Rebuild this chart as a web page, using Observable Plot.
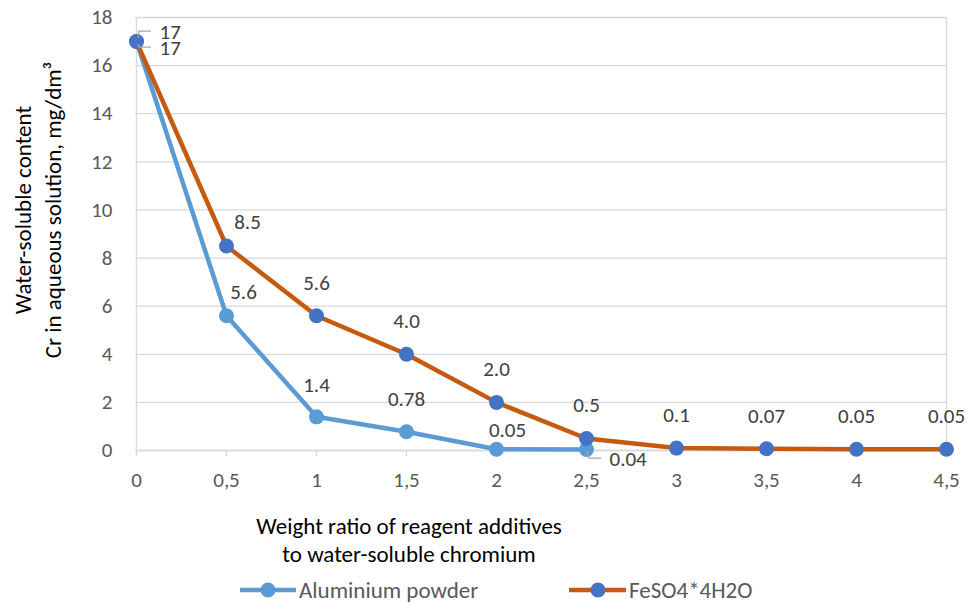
<!DOCTYPE html>
<html>
<head>
<meta charset="utf-8">
<script src="https://cdn.jsdelivr.net/npm/d3@7"></script>
<script src="https://cdn.jsdelivr.net/npm/@observablehq/plot@0.6"></script>
<style>
  html, body { margin: 0; padding: 0; background: #fff; }
  body { width: 969px; height: 603px; position: relative; overflow: hidden;
         font-family: Carlito, Calibri, Lato, "Noto Sans", sans-serif; }
  #chart { position: absolute; left: 0; top: 0; }
  .ytitle { position: absolute; left: 38px; top: 210px; transform: translate(-50%, -50%) rotate(-90deg);
            white-space: nowrap; text-align: center; font-size: 23px; line-height: 30px; color: #000; }
  .xtitle { position: absolute; left: 409px; top: 512px; transform: translateX(-50%);
            white-space: nowrap; text-align: center; font-size: 23px; line-height: 28px; color: #000; }
  .legend { position: absolute; top: 576px; left: 0; width: 969px; height: 28px; font-size: 23px; color: #595959; }
  .item { position: absolute; top: 0; display: flex; align-items: center; height: 28px; }
  .item svg { margin-right: 3px; }
</style>
</head>
<body>
<div id="chart"></div>
<div class="ytitle">Water-soluble content<br>Cr in aqueous solution, mg/dm³</div>
<div class="xtitle">Weight ratio of reagent additives<br>to water-soluble chromium</div>
<div class="legend">
  <div class="item" style="left:240px"><svg width="56" height="20"><line x1="0" y1="10" x2="56" y2="10" stroke="#5B9BD5" stroke-width="4.5"/><circle cx="28" cy="10" r="7.5" fill="#5B9BD5"/></svg><span id="lg1"></span></div>
  <div class="item" style="left:569px"><svg width="57" height="20"><line x1="0" y1="10" x2="57" y2="10" stroke="#C55A11" stroke-width="4.5"/><circle cx="29" cy="10" r="7.5" fill="#4472C4"/></svg><span id="lg2"></span></div>
</div>
<script>
const categories = ["0", "0,5", "1", "1,5", "2", "2,5", "3", "3,5", "4", "4,5"];
const seriesNames = ["Aluminium powder", "FeSO4*4H2O"];
const aluminium = [17, 5.6, 1.4, 0.78, 0.05, 0.04];
const aluminiumLabels = ["17", "5.6", "1.4", "0.78", "0.05", "0.04"];
const feso4 = [17, 8.5, 5.6, 4.0, 2.0, 0.5, 0.1, 0.07, 0.05, 0.05];
const feso4Labels = ["17", "8.5", "5.6", "4.0", "2.0", "0.5", "0.1", "0.07", "0.05", "0.05"];
const yTicks = [0, 2, 4, 6, 8, 10, 12, 14, 16, 18];

document.getElementById("lg1").textContent = seriesNames[0];
document.getElementById("lg2").textContent = seriesNames[1];

const alRows = aluminium.map((v, i) => ({x: categories[i], y: v, label: aluminiumLabels[i], i}));
const feRows = feso4.map((v, i) => ({x: categories[i], y: v, label: feso4Labels[i], i}));

const BLUE = "#5B9BD5", ORANGE = "#C55A11", MARK = "#4472C4", GRID = "#D9D9D9", TXT = "#404040";
const font = "Carlito, Calibri, Lato, 'Noto Sans', sans-serif";

// leader lines drawn through the library's scales
function leaders(index, scales) {
  const g = d3.create("svg:g").attr("fill", "none").attr("stroke", "#A6A6A6").attr("stroke-width", 1.3);
  const x0 = scales.x(alRows[0].x), y0 = scales.y(alRows[0].y);
  g.append("path").attr("d", `M${x0 + 2},${y0 - 3}L${x0 + 3},${y0 - 10}L${x0 + 15},${y0 - 10}`);
  g.append("path").attr("d", `M${x0 + 2},${y0 + 3}L${x0 + 3},${y0 + 6}L${x0 + 15},${y0 + 6}`);
  const x5 = scales.x(alRows[5].x), y5 = scales.y(alRows[5].y);
  g.append("path").attr("d", `M${x5 + 1},${y5 + 2}L${x5 + 3},${y5 + 9}L${x5 + 15},${y5 + 9}`);
  return g.node();
}

const textOpts = {x: "x", y: "y", text: "label", fill: TXT, fontSize: 21, fontFamily: font};

const plot = Plot.plot({
  width: 969,
  height: 500,
  marginLeft: 135,
  marginRight: 23,
  marginTop: 17,
  marginBottom: 50,
  style: {fontFamily: font, background: "transparent", overflow: "visible"},
  x: {type: "point", domain: categories, padding: 0, label: null},
  y: {domain: [0, 18], ticks: yTicks, label: null},
  marks: [
    Plot.gridY(yTicks, {stroke: GRID, strokeOpacity: 1, strokeWidth: 1.3}),
    Plot.ruleX([categories[0], categories[categories.length - 1]], {stroke: GRID, strokeWidth: 1.3}),
    Plot.ruleY([0], {stroke: GRID, strokeWidth: 1.3}),
    Plot.axisY(yTicks, {tickSize: 0, tickPadding: 23, fontSize: 21, fill: "#595959", label: null}),
    Plot.axisX({tickSize: 6, tickPadding: 16, fontSize: 21, fill: "#595959", stroke: GRID, strokeWidth: 1.3, label: null}),
    Plot.line(alRows, {x: "x", y: "y", stroke: BLUE, strokeWidth: 4.5}),
    Plot.dot(alRows, {x: "x", y: "y", r: 7.5, fill: BLUE, stroke: "none"}),
    Plot.line(feRows, {x: "x", y: "y", stroke: ORANGE, strokeWidth: 4.5}),
    Plot.dot(feRows, {x: "x", y: "y", r: 7.5, fill: MARK, stroke: "none"}),
    leaders,
    // FeSO4 labels
    Plot.text(feRows.filter(d => d.i >= 2), {...textOpts, dy: -33}),
    Plot.text(feRows.filter(d => d.i === 1), {...textOpts, dx: 21, dy: -24}),
    Plot.text(feRows.filter(d => d.i === 0), {...textOpts, textAnchor: "start", dx: 23, dy: -9}),
    // Aluminium labels
    Plot.text(alRows.filter(d => d.i === 0), {...textOpts, textAnchor: "start", dx: 23, dy: 7}),
    Plot.text(alRows.filter(d => d.i === 1), {...textOpts, dx: 17, dy: -24}),
    Plot.text(alRows.filter(d => d.i === 2 || d.i === 3), {...textOpts, dy: -32}),
    Plot.text(alRows.filter(d => d.i === 4), {...textOpts, dx: 11, dy: -19}),
    Plot.text(alRows.filter(d => d.i === 5), {...textOpts, textAnchor: "start", dx: 23, dy: 10})
  ]
});
document.getElementById("chart").appendChild(plot);
</script>
</body>
</html>
